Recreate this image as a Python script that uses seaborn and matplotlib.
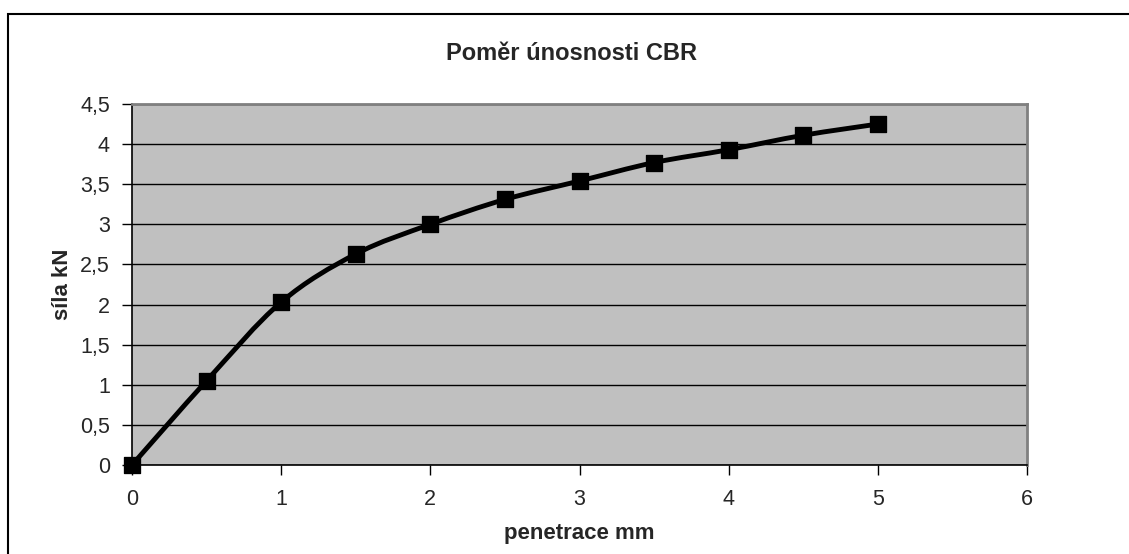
import numpy as np
import pandas as pd
import seaborn as sns
from matplotlib import pyplot as plt
from matplotlib.path import Path
from matplotlib.patches import PathPatch, Rectangle
from matplotlib.ticker import FuncFormatter

# data
penetrace = [0, 0.5, 1, 1.5, 2, 2.5, 3, 3.5, 4, 4.5, 5]
sila = [0, 1.05, 2.03, 2.63, 3.0, 3.31, 3.54, 3.77, 3.93, 4.11, 4.25]
x_ticks = [0, 1, 2, 3, 4, 5, 6]
y_ticks = [0, 0.5, 1, 1.5, 2, 2.5, 3, 3.5, 4, 4.5]


def smooth_path(xs, ys, t=1/6):
    # Excel-like smoothed line: Catmull-Rom segments as cubic Bezier curves
    xs = np.asarray(xs, float)
    ys = np.asarray(ys, float)
    verts = [(xs[0], ys[0])]
    codes = [Path.MOVETO]
    n = len(xs)
    for i in range(n - 1):
        p0 = np.array([xs[max(i - 1, 0)], ys[max(i - 1, 0)]])
        p1 = np.array([xs[i], ys[i]])
        p2 = np.array([xs[i + 1], ys[i + 1]])
        p3 = np.array([xs[min(i + 2, n - 1)], ys[min(i + 2, n - 1)]])
        c1 = p1 + (p2 - p0) * t
        c2 = p2 - (p3 - p1) * t
        verts += [tuple(c1), tuple(c2), tuple(p2)]
        codes += [Path.CURVE4] * 3
    return Path(verts, codes)


def main():
    df = pd.DataFrame({"penetrace": penetrace, "sila": sila})

    sns.set_style("white")
    plt.rcParams["font.family"] = ["Liberation Sans", "DejaVu Sans"]

    fig = plt.figure(figsize=(11.29, 5.54), dpi=100)
    ax = fig.add_axes([132 / 1129, 1 - 465 / 554, (1027 - 132) / 1129, (465 - 104) / 554])
    ax.set_facecolor("#c0c0c0")

    # outer chart frame
    fig.patches.append(Rectangle((7.5 / 1129, -0.1), 1.2, 1 - 13.5 / 554 + 0.1,
                                 transform=fig.transFigure, fill=False,
                                 edgecolor="black", linewidth=1.5))

    ax.set_xlim(0, 6)
    ax.set_ylim(0, 4.5)
    ax.set_xticks(x_ticks)
    ax.set_yticks(y_ticks)
    ax.yaxis.grid(True, color="black", linewidth=1)
    ax.set_axisbelow(True)

    # smoothed line
    ax.add_patch(PathPatch(smooth_path(df["penetrace"], df["sila"]), fill=False,
                           edgecolor="black", linewidth=3.5, zorder=3, clip_on=False))
    sns.scatterplot(data=df, x="penetrace", y="sila", marker="s", s=140,
                    color="black", edgecolor="black", zorder=4, clip_on=False, ax=ax)

    fmt = FuncFormatter(lambda v, p: ("%g" % v).replace(".", ","))
    ax.xaxis.set_major_formatter(fmt)
    ax.yaxis.set_major_formatter(fmt)

    for side in ["left", "bottom"]:
        ax.spines[side].set_color("black")
        ax.spines[side].set_linewidth(1.2)
    for side in ["top", "right"]:
        ax.spines[side].set_color("#808080")
        ax.spines[side].set_linewidth(2)
    ax.tick_params(axis="both", direction="out", length=7, width=1, color="black",
                   labelsize=15.5, bottom=True, left=True)
    ax.tick_params(axis="y", pad=9)
    ax.tick_params(axis="x", pad=10)

    ax.set_xlabel("penetrace mm", fontsize=16, fontweight="bold")
    ax.set_ylabel("síla kN", fontsize=16, fontweight="bold")
    ax.xaxis.set_label_coords(0.5, (465 - 533) / 361)
    ax.yaxis.set_label_coords((62 - 132) / 895, 0.5)
    ax.xaxis.label.set_va("center")
    ax.yaxis.label.set_va("center")
    ax.set_title("Poměr únosnosti CBR", fontsize=17, fontweight="bold",
                 x=(572 - 132) / 895, y=(465 - 53) / 361, va="center", pad=0)

    plt.savefig("out.png", dpi=100)
    return 0


if __name__ == "__main__":
    main()
